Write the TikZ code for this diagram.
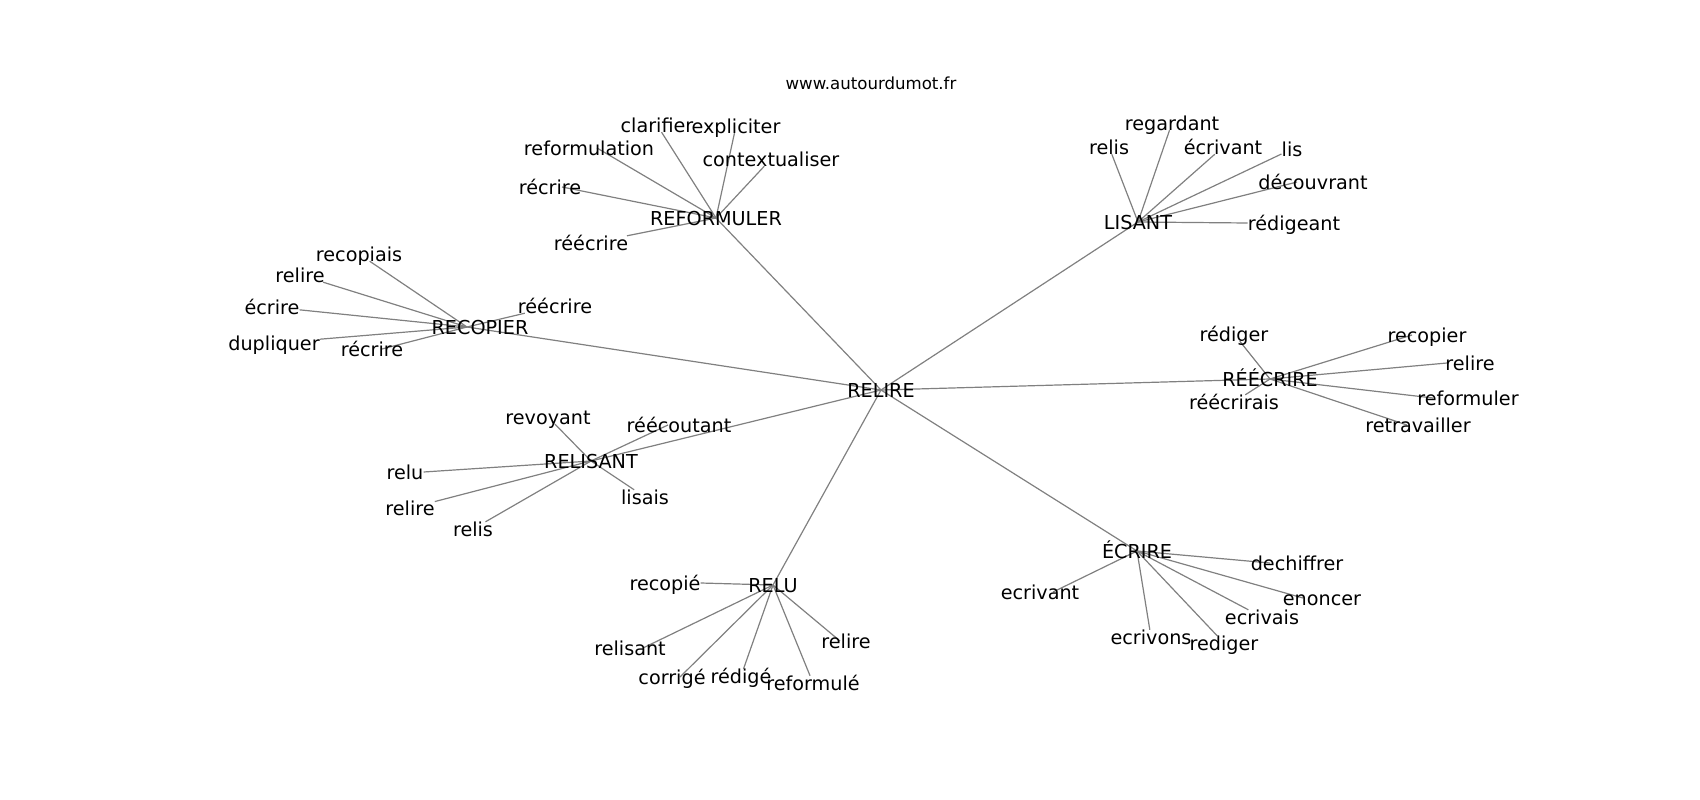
\documentclass[tikz,border=0pt]{standalone}
\usepackage{fontspec}
\setmainfont{DejaVu Sans}
\usetikzlibrary{backgrounds}

\tikzset{
   word/.style={inner sep=0pt, text height=14pt, text depth=0pt, font=\fontsize{19.2}{22}\selectfont},
   link/.style={gray, line width=1.2pt}
}

\begin{document}
\begin{tikzpicture}[x=1pt, y=-1pt]
   \useasboundingbox (0,0) rectangle (1700,800);

   \node(T)[inner sep=0pt, text height=12.1pt, text depth=0pt, font=\fontsize{16.6}{20}\selectfont] at (871,83) {www.autourdumot.fr};

   \node(RL)[word] at (881,390) {RELIRE};
   \node(RF)[word] at (716,218) {REFORMULER};
   \node(RC)[word] at (480,327) {RECOPIER};
   \node(LS)[word] at (1138,222) {LISANT};
   \node(RE)[word] at (1270,379) {RÉÉCRIRE};
   \node(RS)[word] at (591,461) {RELISANT};
   \node(RU)[word] at (773,585) {RELU};
   \node(EC)[word] at (1137,551) {ÉCRIRE};

   \node(RF1)[word] at (657,125) {clarifier};
   \node(RF2)[word] at (736,126) {expliciter};
   \node(RF3)[word] at (771,159) {contextualiser};
   \node(RF4)[word] at (589,148) {reformulation};
   \node(RF5)[word] at (550,187) {récrire};
   \node(RF6)[word] at (591,243) {réécrire};

   \node(RC1)[word] at (359,254) {recopiais};
   \node(RC2)[word] at (300,275) {relire};
   \node(RC3)[word] at (272,307) {écrire};
   \node(RC4)[word] at (274,343) {dupliquer};
   \node(RC5)[word] at (372,349) {récrire};
   \node(RC6)[word] at (555,306) {réécrire};

   \node(LS1)[word] at (1109,147) {relis};
   \node(LS2)[word] at (1172,123) {regardant};
   \node(LS3)[word] at (1223,147) {écrivant};
   \node(LS4)[word] at (1292,149) {lis};
   \node(LS5)[word] at (1313,182) {découvrant};
   \node(LS6)[word] at (1294,223) {rédigeant};

   \node(RE1)[word] at (1234,334) {rédiger};
   \node(RE2)[word] at (1234,402) {réécrirais};
   \node(RE3)[word] at (1427,335) {recopier};
   \node(RE4)[word] at (1470,363) {relire};
   \node(RE5)[word] at (1468,398) {reformuler};
   \node(RE6)[word] at (1418,425) {retravailler};

   \node(RS1)[word] at (548,417) {revoyant};
   \node(RS2)[word] at (679,425) {réécoutant};
   \node(RS3)[word] at (405,472) {relu};
   \node(RS4)[word] at (410,508) {relire};
   \node(RS5)[word] at (473,529) {relis};
   \node(RS6)[word] at (645,497) {lisais};

   \node(RU1)[word] at (665,583) {recopié};
   \node(RU2)[word] at (630,648) {relisant};
   \node(RU3)[word] at (672,677) {corrigé};
   \node(RU4)[word] at (741,676) {rédigé};
   \node(RU5)[word] at (813,683) {reformulé};
   \node(RU6)[word] at (846,641) {relire};

   \node(EC1)[word] at (1040,592) {ecrivant};
   \node(EC2)[word] at (1151,637) {ecrivons};
   \node(EC3)[word] at (1224,643) {rediger};
   \node(EC4)[word] at (1262,617) {ecrivais};
   \node(EC5)[word] at (1322,598) {enoncer};
   \node(EC6)[word] at (1297,563) {dechiffrer};

   \begin{scope}[on background layer]
   \foreach \t in {RF,LS,RE,RS,RU,EC}
      \draw[link] (RL.center) -- (\t.center);
   \draw[link] (RL.center) -- ([xshift=-13pt]RC.center);

   \foreach \t in {(RF1),(RF2),(RF3),([xshift=8pt]RF4.center),([xshift=12pt]RF5.center),(RF6)}
      \draw[link] (RF.center) -- \t;
   \foreach \t in {(RC1),(RC2),(RC3),(RC4),([xshift=10pt]RC5.center),(RC6)}
      \draw[link] ([xshift=-13pt]RC.center) -- \t;
   \foreach \t in {(LS1),(LS2),(LS3),(LS4),([xshift=-16pt]LS5.center),(LS6.west)}
      \draw[link] (LS.center) -- \t;
   \foreach \t in {(RE1),(RE2),([xshift=-15pt]RE3.center),([xshift=-23pt]RE4.center),([xshift=-35pt]RE5.center),([xshift=-11pt]RE6.center)}
      \draw[link] (RE.center) -- \t;
   \foreach \t in {(RS1),([xshift=-11pt]RS2.center),(RS3.east),(RS4),(RS5),(RS6)}
      \draw[link] (RS.center) -- \t;
   \foreach \t in {(RU1.east),([xshift=13pt]RU2.center),([xshift=8pt]RU3.center),(RU4),(RU5),([xshift=-6pt]RU6.center)}
      \draw[link] (RU.center) -- \t;
   \foreach \t in {([xshift=13pt]EC1.center),(EC2),(EC3),(EC4),([xshift=-19pt]EC5.center),([xshift=-27pt]EC6.center)}
      \draw[link] (EC.center) -- \t;
   \end{scope}

\end{tikzpicture}
\end{document}
